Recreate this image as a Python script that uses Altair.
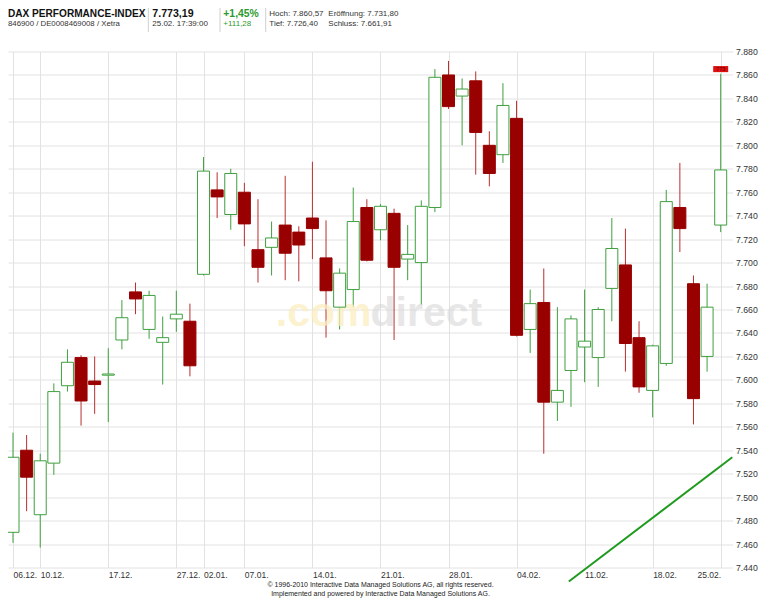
import altair as alt
import pandas as pd

# ---------------- data ----------------
dates = ["06.12.", "07.12.", "10.12.", "11.12.", "12.12.", "13.12.", "14.12.", "17.12.", "18.12.",
         "19.12.", "20.12.", "21.12.", "27.12.", "28.12.", "02.01.", "03.01.", "04.01.", "07.01.",
         "08.01.", "09.01.", "10.01.", "11.01.", "14.01.", "15.01.", "16.01.", "17.01.", "18.01.",
         "21.01.", "22.01.", "23.01.", "24.01.", "25.01.", "28.01.", "29.01.", "30.01.", "31.01.",
         "01.02.", "04.02.", "05.02.", "06.02.", "07.02.", "08.02.", "11.02.", "12.02.", "13.02.",
         "14.02.", "15.02.", "18.02.", "19.02.", "20.02.", "21.02.", "22.02.", "25.02."]
opens = [7470, 7540, 7485, 7529, 7595, 7619, 7599, 7604, 7634, 7675, 7643, 7632, 7652, 7650,
         7690, 7762, 7741, 7760, 7711, 7713, 7732, 7726, 7738, 7704, 7662, 7677, 7747, 7728,
         7742, 7703, 7700, 7747, 7860, 7842, 7855, 7800, 7792, 7823, 7643, 7666, 7581, 7608,
         7628, 7619, 7678, 7698, 7636, 7591, 7614, 7747, 7682, 7620, 7732]
highs = [7555, 7553, 7537, 7597, 7626, 7621, 7620, 7627, 7668, 7683, 7676, 7654, 7676, 7665,
         7790, 7777, 7780, 7768, 7754, 7735, 7774, 7731, 7786, 7736, 7695, 7764, 7754, 7750,
         7746, 7732, 7753, 7865, 7872, 7857, 7863, 7812, 7853, 7838, 7677, 7695, 7662, 7655,
         7677, 7662, 7738, 7729, 7650, 7630, 7762, 7785, 7689, 7682, 7861]
lows = [7461, 7488, 7457, 7519, 7590, 7561, 7571, 7564, 7626, 7656, 7635, 7596, 7641, 7603,
        7689, 7738, 7728, 7714, 7683, 7689, 7685, 7684, 7703, 7636, 7643, 7662, 7701, 7719,
        7634, 7685, 7664, 7743, 7831, 7800, 7775, 7765, 7785, 7637, 7623, 7537, 7565, 7577,
        7598, 7594, 7650, 7607, 7589, 7568, 7612, 7709, 7562, 7607, 7726]
closes = [7534, 7517, 7531, 7590, 7615, 7582, 7596, 7605, 7653, 7669, 7672, 7636, 7656, 7612,
          7778, 7756, 7776, 7733, 7696, 7721, 7708, 7715, 7729, 7676, 7691, 7735, 7702, 7748,
          7696, 7707, 7748, 7858, 7833, 7848, 7811, 7776, 7834, 7638, 7665, 7581, 7591, 7652,
          7633, 7660, 7712, 7631, 7594, 7629, 7752, 7729, 7584, 7662, 7779]

tick_dates = ["06.12.", "10.12.", "17.12.", "27.12.", "02.01.", "07.01.", "14.01.", "21.01.",
              "28.01.", "04.02.", "11.02.", "18.02.", "25.02."]
y_ticks = list(range(7440, 7881, 20))

# trend line (two anchor points)
trend_i = [40.84, 52.85]
trend_v = [7428, 7534]

# last-price marker
marker_i = [52]
marker_level = [7865]
marker_text = ["773"]

header_title = "DAX PERFORMANCE-INDEX"
header_sub = "846900 / DE0008469008 / Xetra"
header_price = "7.773,19"
header_time = "25.02. 17:39:00"
header_pct = "+1,45%"
header_abs = "+111,28"
header_high = "Hoch: 7.860,57"
header_low = "Tief: 7.726,40"
header_open = "Eröffnung: 7.731,80"
header_close = "Schluss: 7.661,91"
footer1 = "© 1996-2010 Interactive Data Managed Solutions AG, all rights reserved."
footer2 = "Implemented and powered by  Interactive Data Managed Solutions AG."

# ---------------- layout ----------------
STEP = 13.8
XMAX = 52.5
W, H = STEP * XMAX, 516
TOTAL_W, TOTAL_H = 752, 592
PAD_TOP = 43.5
FONT = "Liberation Sans"

GREEN = "#3f9f3f"
RED = "#990000"
RED_WICK = "#b83030"
GRID = "#e2e2e2"

df = pd.DataFrame({"i": list(range(len(dates))), "date": dates, "open": opens,
                   "high": highs, "low": lows, "close": closes})

tick_idx = [dates.index(d) for d in tick_dates]
x_label_expr = f"{tick_dates}[indexof({tick_idx}, datum.value)]"

x_scale = alt.Scale(domain=[0, XMAX], nice=False, zero=False)
y_scale = alt.Scale(domain=[7440, 7880], nice=False, zero=False)

x_axis = alt.Axis(values=tick_idx, labelExpr=x_label_expr, grid=True, gridColor=GRID,
                  domain=False, ticks=False, title=None, labelFont=FONT, labelFontSize=8.5,
                  labelColor="#333", labelBaseline="middle", labelPadding=7,
                  labelAlign={"condition": {"test": f"datum.value == {tick_idx[-1]}", "value": "right"},
                              "value": "left"},
                  labelFlush=False, labelOverlap=False, labelBound=False)
y_axis = alt.Axis(values=y_ticks, orient="right", grid=True, gridColor=GRID, domain=False,
                  ticks=False, title=None, labelFont=FONT, labelFontSize=8.7, labelColor="#333",
                  labelPadding=3, labelExpr="replace(format(datum.value, ','), ',', '.')",
                  labelOverlap=False, labelBound=False, labelFlush=False)

up = "datum.close >= datum.open"

base = alt.Chart(df)

wicks = base.mark_rule(clip=True, strokeWidth=1).encode(
    x=alt.X("i:Q", scale=x_scale, axis=x_axis),
    y=alt.Y("low:Q", scale=y_scale, axis=y_axis),
    y2="high:Q",
    color=alt.condition(up, alt.value(GREEN), alt.value(RED_WICK)),
)

bodies = base.mark_bar(size=12, clip=True, strokeWidth=1).encode(
    x=alt.X("i:Q", scale=x_scale, axis=x_axis),
    y=alt.Y("open:Q", scale=y_scale, axis=y_axis),
    y2="close:Q",
    fill=alt.condition(up, alt.value("white"), alt.value(RED)),
    stroke=alt.condition(up, alt.value(GREEN), alt.value(RED)),
)

trend = alt.Chart(pd.DataFrame({"ti": trend_i, "tv": trend_v})).mark_line(
    clip=False, color="#1f9a1f", strokeWidth=2
).encode(
    x=alt.X("ti:Q", scale=x_scale, axis=x_axis),
    y=alt.Y("tv:Q", scale=y_scale, axis=y_axis),
)

mdf = pd.DataFrame({"mi": marker_i, "mv": marker_level, "mt": marker_text})
marker = alt.Chart(mdf).transform_calculate(lo="datum.mv - 2.6", hi="datum.mv + 2.6").mark_bar(
    size=15, color="#e01010", clip=False
).encode(
    x=alt.X("mi:Q", scale=x_scale, axis=x_axis),
    y=alt.Y("lo:Q", scale=y_scale, axis=y_axis),
    y2="hi:Q",
)
marker_lbl = alt.Chart(mdf).mark_text(fontSize=5.5, font=FONT, color="#500", baseline="middle").encode(
    x=alt.X("mi:Q", scale=x_scale, axis=x_axis),
    y=alt.Y("mv:Q", scale=y_scale, axis=y_axis),
    text="mt:N",
)

one = pd.DataFrame({"a": [0]})


def txt(s, x, y, size, color="#333", bold=False, align="left", opacity=1.0):
    return alt.Chart(one).mark_text(
        text=s, align=align, baseline="middle", fontSize=size, font=FONT,
        fontWeight="bold" if bold else "normal", color=color, opacity=opacity, clip=False
    ).encode(x=alt.value(x), y=alt.value(y))


def sep(x):
    return alt.Chart(one).mark_rule(color="#cfcfcf", strokeWidth=1, clip=False).encode(
        x=alt.value(x), y=alt.value(-43.5), y2=alt.value(-19.5))


wm1 = alt.Chart(one).mark_text(text=".com", align="right", baseline="alphabetic", fontSize=41,
                               font=FONT, fontWeight="bold", color="#fbeec0", opacity=0.75).encode(
    x=alt.value(363.5), y=alt.value(274))
wm2 = alt.Chart(one).mark_text(text="direct", align="left", baseline="alphabetic", fontSize=41,
                               font=FONT, fontWeight="bold", color="#d8d8d8", opacity=0.6).encode(
    x=alt.value(362.5), y=alt.value(274))

ROW1, ROW2 = -37.3, -27.3
header = [
    txt(header_title, 0, ROW1, 10.1, "#111", True),
    txt(header_sub, 0, ROW2, 7.8, "#333"),
    sep(140.3),
    txt(header_price, 144.3, ROW1, 10.6, "#111", True),
    txt(header_time, 144.3, ROW2, 8, "#333"),
    sep(212),
    txt(header_pct, 215.3, ROW1, 10.4, "#2c9a2c", True),
    txt(header_abs, 215.3, ROW2, 8, "#2c9a2c"),
    sep(257.7),
    txt(header_high, 261.3, ROW1, 8, "#333"),
    txt(header_low, 261.3, ROW2, 8, "#333"),
    txt(header_open, 320.3, ROW1, 8, "#333"),
    txt(header_close, 320.3, ROW2, 8, "#333"),
]

footer = [
    txt(footer1, 372.5, 533.5, 7, "#222", align="center"),
    txt(footer2, 372.5, 542.5, 7, "#222", align="center"),
]

chart = alt.layer(
    wicks, wm1, wm2, bodies, trend, marker, marker_lbl, *header, *footer
).properties(
    width=W, height=H,
    autosize=alt.AutoSizeParams(type="none"),
    padding={"left": 0, "top": PAD_TOP, "right": TOTAL_W - W, "bottom": TOTAL_H - PAD_TOP - H},
    background="white",
).configure_view(stroke=None)

chart.save("out.html", embed_options={"renderer": "svg", "actions": False})
